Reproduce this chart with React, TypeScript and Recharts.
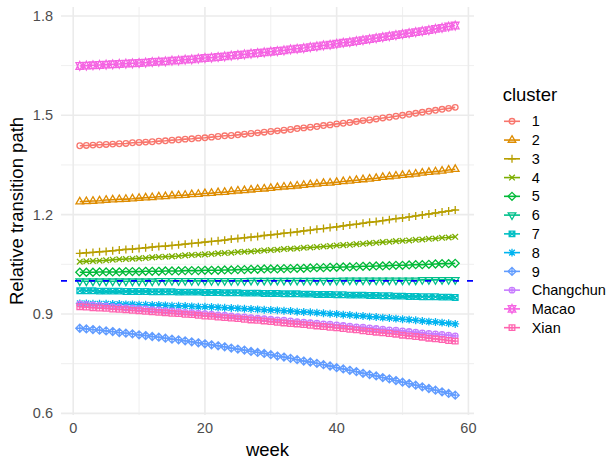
import { LineChart, Line, XAxis, YAxis, CartesianGrid, Legend, Label } from 'recharts'

// weeks on the x axis
const weeks = [
  1, 2, 3, 4, 5, 6, 7, 8, 9, 10, 11, 12, 13, 14, 15, 16, 17, 18, 19, 20,
  21, 22, 23, 24, 25, 26, 27, 28, 29, 30, 31, 32, 33, 34, 35, 36, 37, 38, 39, 40,
  41, 42, 43, 44, 45, 46, 47, 48, 49, 50, 51, 52, 53, 54, 55, 56, 57, 58,
]

const cluster1 = [
  1.408, 1.409, 1.410, 1.411, 1.412, 1.413, 1.414, 1.415, 1.417, 1.418, 1.419, 1.420, 1.422, 1.423, 1.425,
  1.426, 1.428, 1.429, 1.431, 1.432, 1.434, 1.436, 1.438, 1.439, 1.441, 1.443, 1.445, 1.447, 1.449, 1.451,
  1.453, 1.455, 1.457, 1.460, 1.462, 1.464, 1.466, 1.469, 1.471, 1.474, 1.476, 1.478, 1.481, 1.484, 1.486,
  1.489, 1.492, 1.494, 1.497, 1.500, 1.503, 1.506, 1.509, 1.512, 1.515, 1.518, 1.521, 1.524,
]
const cluster2 = [
  1.239, 1.240, 1.241, 1.242, 1.244, 1.245, 1.246, 1.247, 1.248, 1.250, 1.251, 1.252, 1.254, 1.255, 1.257,
  1.258, 1.259, 1.261, 1.262, 1.264, 1.265, 1.267, 1.268, 1.270, 1.272, 1.273, 1.275, 1.277, 1.278, 1.280,
  1.282, 1.284, 1.285, 1.287, 1.289, 1.291, 1.293, 1.295, 1.296, 1.298, 1.300, 1.302, 1.304, 1.306, 1.308,
  1.310, 1.313, 1.315, 1.317, 1.319, 1.321, 1.323, 1.326, 1.328, 1.330, 1.332, 1.335, 1.337,
]
const cluster3 = [
  1.083, 1.085, 1.086, 1.088, 1.089, 1.091, 1.093, 1.095, 1.096, 1.098, 1.100, 1.102, 1.104, 1.105, 1.107,
  1.109, 1.111, 1.113, 1.115, 1.117, 1.119, 1.121, 1.123, 1.126, 1.128, 1.130, 1.132, 1.134, 1.137, 1.139,
  1.141, 1.144, 1.146, 1.148, 1.151, 1.153, 1.156, 1.158, 1.161, 1.163, 1.166, 1.169, 1.171, 1.174, 1.177,
  1.179, 1.182, 1.185, 1.188, 1.190, 1.193, 1.196, 1.199, 1.202, 1.205, 1.208, 1.211, 1.214,
]
const cluster4 = [
  1.058, 1.059, 1.060, 1.061, 1.062, 1.064, 1.065, 1.066, 1.067, 1.068, 1.069, 1.071, 1.072, 1.073, 1.074,
  1.075, 1.077, 1.078, 1.079, 1.080, 1.081, 1.083, 1.084, 1.085, 1.087, 1.088, 1.089, 1.090, 1.092, 1.093,
  1.094, 1.096, 1.097, 1.098, 1.100, 1.101, 1.102, 1.104, 1.105, 1.107, 1.108, 1.109, 1.111, 1.112, 1.114,
  1.115, 1.117, 1.118, 1.120, 1.121, 1.122, 1.124, 1.125, 1.127, 1.128, 1.130, 1.131, 1.133,
]
const cluster5 = [
  1.026, 1.026, 1.026, 1.027, 1.027, 1.027, 1.027, 1.028, 1.028, 1.028, 1.029, 1.029, 1.029, 1.030, 1.030,
  1.030, 1.031, 1.031, 1.031, 1.032, 1.032, 1.032, 1.033, 1.033, 1.034, 1.034, 1.035, 1.035, 1.036, 1.036,
  1.036, 1.037, 1.037, 1.038, 1.038, 1.039, 1.040, 1.040, 1.041, 1.041, 1.042, 1.042, 1.043, 1.044, 1.044,
  1.045, 1.045, 1.046, 1.047, 1.047, 1.048, 1.049, 1.049, 1.050, 1.051, 1.052, 1.052, 1.053,
]
const cluster6 = [
  0.999, 0.999, 0.999, 0.999, 0.999, 0.999, 0.999, 0.999, 0.999, 0.999, 0.999, 0.999, 1.000, 1.000, 1.000,
  1.000, 1.000, 1.000, 1.000, 1.000, 1.000, 1.000, 1.000, 1.000, 1.000, 1.000, 1.001, 1.001, 1.001, 1.001,
  1.001, 1.001, 1.001, 1.001, 1.001, 1.001, 1.001, 1.001, 1.001, 1.001, 1.002, 1.002, 1.002, 1.002, 1.002,
  1.002, 1.002, 1.002, 1.002, 1.002, 1.002, 1.002, 1.003, 1.003, 1.003, 1.003, 1.003, 1.003,
]
const cluster7 = [
  0.970, 0.970, 0.970, 0.969, 0.969, 0.969, 0.969, 0.968, 0.968, 0.968, 0.968, 0.967, 0.967, 0.967, 0.967,
  0.966, 0.966, 0.966, 0.966, 0.965, 0.965, 0.965, 0.964, 0.964, 0.964, 0.963, 0.963, 0.963, 0.962, 0.962,
  0.962, 0.961, 0.961, 0.961, 0.960, 0.960, 0.959, 0.959, 0.959, 0.958, 0.958, 0.957, 0.957, 0.957, 0.956,
  0.956, 0.955, 0.955, 0.954, 0.954, 0.953, 0.953, 0.952, 0.952, 0.952, 0.951, 0.951, 0.950,
]
const cluster8 = [
  0.932, 0.932, 0.931, 0.931, 0.931, 0.930, 0.930, 0.929, 0.929, 0.928, 0.928, 0.927, 0.927, 0.926, 0.925,
  0.925, 0.924, 0.923, 0.922, 0.922, 0.921, 0.920, 0.919, 0.918, 0.917, 0.916, 0.915, 0.914, 0.913, 0.912,
  0.911, 0.910, 0.909, 0.907, 0.906, 0.905, 0.904, 0.902, 0.901, 0.900, 0.898, 0.897, 0.895, 0.894, 0.892,
  0.891, 0.889, 0.888, 0.886, 0.884, 0.883, 0.881, 0.879, 0.877, 0.876, 0.874, 0.872, 0.870,
]
const cluster9 = [
  0.857, 0.855, 0.853, 0.851, 0.849, 0.847, 0.844, 0.842, 0.840, 0.837, 0.835, 0.832, 0.830, 0.827, 0.824,
  0.822, 0.819, 0.816, 0.813, 0.810, 0.807, 0.804, 0.801, 0.797, 0.794, 0.791, 0.787, 0.784, 0.781, 0.777,
  0.773, 0.770, 0.766, 0.762, 0.758, 0.755, 0.751, 0.747, 0.743, 0.738, 0.734, 0.730, 0.726, 0.721, 0.717,
  0.713, 0.708, 0.704, 0.699, 0.694, 0.690, 0.685, 0.680, 0.675, 0.670, 0.665, 0.660, 0.655,
]
const changchun = [
  0.930, 0.929, 0.927, 0.926, 0.924, 0.922, 0.921, 0.919, 0.918, 0.916, 0.915, 0.913, 0.912, 0.910, 0.909,
  0.907, 0.905, 0.904, 0.902, 0.901, 0.899, 0.897, 0.896, 0.894, 0.892, 0.891, 0.889, 0.887, 0.886, 0.884,
  0.882, 0.881, 0.879, 0.877, 0.875, 0.874, 0.872, 0.870, 0.869, 0.867, 0.865, 0.863, 0.861, 0.860, 0.858,
  0.856, 0.854, 0.852, 0.851, 0.849, 0.847, 0.845, 0.843, 0.841, 0.840, 0.838, 0.836, 0.834,
]
const macao = [
  1.649, 1.650, 1.651, 1.652, 1.653, 1.654, 1.655, 1.656, 1.657, 1.658, 1.659, 1.661, 1.662, 1.663, 1.665,
  1.666, 1.668, 1.669, 1.671, 1.673, 1.674, 1.676, 1.678, 1.680, 1.682, 1.684, 1.686, 1.688, 1.690, 1.692,
  1.694, 1.696, 1.699, 1.701, 1.703, 1.706, 1.708, 1.711, 1.713, 1.716, 1.719, 1.721, 1.724, 1.727, 1.730,
  1.733, 1.736, 1.739, 1.742, 1.745, 1.748, 1.751, 1.754, 1.757, 1.761, 1.764, 1.768, 1.771,
]
const xian = [
  0.922, 0.921, 0.919, 0.918, 0.917, 0.915, 0.914, 0.913, 0.911, 0.910, 0.908, 0.907, 0.905, 0.904, 0.902,
  0.901, 0.899, 0.898, 0.896, 0.894, 0.893, 0.891, 0.889, 0.888, 0.886, 0.884, 0.882, 0.881, 0.879, 0.877,
  0.875, 0.873, 0.871, 0.870, 0.868, 0.866, 0.864, 0.862, 0.860, 0.858, 0.856, 0.854, 0.852, 0.849, 0.847,
  0.845, 0.843, 0.841, 0.839, 0.836, 0.834, 0.832, 0.830, 0.827, 0.825, 0.823, 0.820, 0.818,
]

const clusterNames = ['1', '2', '3', '4', '5', '6', '7', '8', '9', 'Changchun', 'Macao', 'Xian']
const clusterValues = [
  cluster1, cluster2, cluster3, cluster4, cluster5, cluster6,
  cluster7, cluster8, cluster9, changchun, macao, xian,
]
const clusterColors = [
  '#F8766D', '#DE8C00', '#B79F00', '#7CAE00', '#00BA38', '#00C08B',
  '#00BFC4', '#00B4F0', '#619CFF', '#C77CFF', '#F564E3', '#FF64B0',
]

const xDomain = [-1.85, 60.85]
const xTicks = [0, 20, 40, 60]
const xMinor = [10, 30, 50]
const yTicks = [0.6, 0.9, 1.2, 1.5, 1.8]
const yMinor = [0.75, 1.05, 1.35, 1.65]
const baseline = 1

const rows = weeks.map((week, i) => {
  const row: Record<string, number> = { week }
  clusterNames.forEach((name, k) => {
    row[name] = clusterValues[k][i]
  })
  return row
})

// horizontal reference at 1, spanning the whole panel (drawn on top like geom_hline)
const baselineRows = xDomain.map((week) => ({ week, ref: baseline }))

const FONT = '"Liberation Sans", Arial, Helvetica, sans-serif'
const U = 7.5

// R pch 1..12 point shapes
const Marker = ({ shape, x, y, color }: { shape: number; x: number; y: number; color: string }) => {
  const r = 0.375 * U
  const d = 0.53 * U
  const ta = 0.583 * U
  const tb = 0.2916 * U
  const tw = 0.505 * U
  const p = { stroke: color, strokeWidth: 1.3, fill: 'none' }
  const plus = (s: number) => `M${x - s},${y}L${x + s},${y}M${x},${y - s}L${x},${y + s}`
  const cross = (s: number) => `M${x - s},${y - s}L${x + s},${y + s}M${x - s},${y + s}L${x + s},${y - s}`
  const diamond = `M${x},${y - d}L${x + d},${y}L${x},${y + d}L${x - d},${y}Z`
  switch (shape) {
    case 0:
      return <circle cx={x} cy={y} r={r} {...p} />
    case 1:
      return <path d={`M${x},${y - ta}L${x + tw},${y + tb}L${x - tw},${y + tb}Z`} {...p} />
    case 2:
      return <path d={plus(d)} {...p} />
    case 3:
      return <path d={cross(r)} {...p} />
    case 4:
      return <path d={diamond} {...p} />
    case 5:
      return <path d={`M${x},${y + ta}L${x + tw},${y - tb}L${x - tw},${y - tb}Z`} {...p} />
    case 6:
      return <path d={`M${x - r},${y - r}h${2 * r}v${2 * r}h${-2 * r}Z` + cross(r)} {...p} />
    case 7:
      return <path d={cross(r) + plus(d)} {...p} />
    case 8:
      return <path d={diamond + plus(d)} {...p} />
    case 9:
      return (
        <g>
          <circle cx={x} cy={y} r={r} {...p} />
          <path d={plus(r)} {...p} />
        </g>
      )
    case 10: {
      const yc = 0.437 * U
      return (
        <path
          d={`M${x},${y + ta}L${x + tw},${y - yc}L${x - tw},${y - yc}ZM${x},${y - ta}L${x + tw},${y + yc}L${x - tw},${y + yc}Z`}
          {...p}
        />
      )
    }
    default:
      return <path d={`M${x - r},${y - r}h${2 * r}v${2 * r}h${-2 * r}Z` + plus(r)} {...p} />
  }
}

const LegendBox = () => (
  <svg width={121} height={270} style={{ overflow: 'visible', fontFamily: FONT }}>
    <text x={12.7} y={23} fontSize={18.5} fill="#000">cluster</text>
    {clusterNames.map((name, i) => {
      const cy = 43.3 + i * 18.76
      return (
        <g key={name}>
          <line x1={14} x2={30} y1={cy} y2={cy} stroke={clusterColors[i]} strokeWidth={1.6} />
          <Marker shape={i} x={22} y={cy} color={clusterColors[i]} />
          <text x={41.7} y={cy} dy="0.355em" fontSize={14.5} fill="#000">{name}</text>
        </g>
      )
    })}
  </svg>
)

export default function App() {
  return (
    <div style={{ position: 'absolute', left: 0, top: 0, width: 611, height: 464, background: '#fff' }}>
      <LineChart width={611} height={464} data={rows} margin={{ top: 7, right: 137, bottom: 0, left: 0 }}>
        <CartesianGrid horizontalValues={yMinor} verticalValues={xMinor} stroke="#EBEBEB" strokeWidth={0.8} />
        <CartesianGrid horizontalValues={yTicks} verticalValues={xTicks} stroke="#EBEBEB" strokeWidth={1.6} />
        <XAxis
          dataKey="week"
          type="number"
          domain={xDomain}
          ticks={xTicks}
          allowDataOverflow
          axisLine={false}
          tickLine={false}
          tickSize={0}
          tickMargin={8}
          height={49}
          tick={{ fill: '#4D4D4D', fontSize: 14.5, fontFamily: FONT }}
        >
          <Label
            content={({ viewBox }: any) => (
              <text x={viewBox.x + viewBox.width / 2} y={456} textAnchor="middle" fontSize={18.5} fontFamily={FONT} fill="#000">
                week
              </text>
            )}
          />
        </XAxis>
        <YAxis
          type="number"
          domain={[0.595, 1.827]}
          ticks={yTicks}
          allowDataOverflow
          axisLine={false}
          tickLine={false}
          tickSize={0}
          tickMargin={8}
          width={61}
          tickFormatter={(v: number) => v.toFixed(1)}
          tick={{ fill: '#4D4D4D', fontSize: 14.5, fontFamily: FONT }}
        >
          <Label
            content={({ viewBox }: any) => {
              const cy = viewBox.y + viewBox.height / 2
              return (
                <text x={23} y={cy} transform={`rotate(-90 23 ${cy})`} textAnchor="middle" fontSize={18.5} fontFamily={FONT} fill="#000">
                  Relative transition path
                </text>
              )
            }}
          />
        </YAxis>
        {clusterNames.map((name, i) => (
          <Line
            key={name}
            dataKey={name}
            type="linear"
            stroke={clusterColors[i]}
            strokeWidth={1.6}
            isAnimationActive={false}
            activeDot={false}
            dot={(props: any) => (
              <Marker key={`${name}-${props.index}`} shape={i} x={props.cx} y={props.cy} color={clusterColors[i]} />
            )}
          />
        ))}
        <Line
          data={baselineRows}
          dataKey="ref"
          type="linear"
          stroke="#0000FF"
          strokeWidth={1.6}
          strokeDasharray="6 8"
          dot={false}
          activeDot={false}
          isAnimationActive={false}
          legendType="none"
          zIndex={2000}
        />
        <Legend
          content={LegendBox}
          layout="vertical"
          align="center"
          verticalAlign="middle"
          wrapperStyle={{ left: 490, top: 78, width: 121, height: 270 }}
        />
      </LineChart>
    </div>
  )
}
